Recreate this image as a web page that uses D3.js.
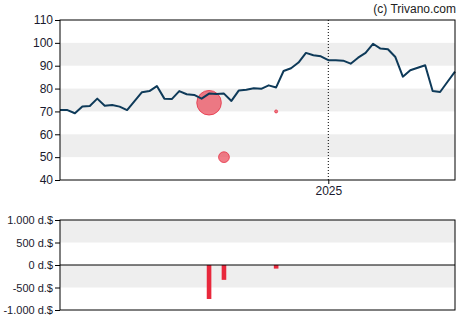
<!DOCTYPE html>
<html><head><meta charset="utf-8">
<script src="https://cdn.jsdelivr.net/npm/d3@7"></script>
<style>body{margin:0;background:#fff}svg{display:block}text{font-family:"Liberation Sans",Arial,sans-serif}</style>
</head><body>
<svg id="c" width="470" height="325"></svg>
<script>
const prices = [70.6,70.6,69.2,72.2,72.4,75.6,72.5,72.8,72.1,70.6,74.5,78.4,78.9,81.1,75.6,75.4,78.9,77.5,77.2,75.6,77.8,77.6,77.8,74.6,79.2,79.5,80.1,79.9,81.4,80.5,87.7,88.9,91.4,95.6,94.6,94.1,92.4,92.4,92.2,90.9,93.5,95.6,99.6,97.5,97.2,93.8,85.2,88.0,89.1,90.2,78.9,78.5,83.0,87.4];
const startDate = new Date(2024, 3, 24);
const dates = prices.map((v, i) => d3.timeDay.offset(startDate, 7 * i));
const tradeIdx = [20, 22, 29];
const tradePrice = [73.8, 50, 70];
const tradeAmount = [-755, -330, -80];
const priceTicks = [40,50,60,70,80,90,100,110];
const amountTicks = [-1000,-500,0,500,1000];
const amountLabels = ["-1.000 d.$","-500 d.$","0 d.$","500 d.$","1.000 d.$"];
const yearTick = [new Date(2025,0,1)];
const yearLabels = ["2025"];

const svg = d3.select("#c");
const L = 60, R = 455, T1 = 20, B1 = 180, T2 = 220, B2 = 310;
const x = d3.scaleTime().domain(d3.extent(dates)).range([L, R]);
const y = d3.scaleLinear().domain([40, 110]).range([B1, T1]);
const y2 = d3.scaleLinear().domain([-1000, 1000]).range([B2, T2]);
const r = d3.scaleLinear().domain([0, 755]).range([0, 12.3]);

// bands main
[[50,60],[70,80],[90,100]].forEach(b => {
  svg.append("rect").attr("x", L).attr("width", R - L)
    .attr("y", y(b[1])).attr("height", y(b[0]) - y(b[1])).attr("fill", "#eeeeee");
});
[[500,1000],[-500,0]].forEach(b => {
  svg.append("rect").attr("x", L).attr("width", R - L)
    .attr("y", y2(b[1])).attr("height", y2(b[0]) - y2(b[1])).attr("fill", "#eeeeee");
});

// 2025 dotted line
svg.append("line").attr("x1", x(yearTick[0])).attr("x2", x(yearTick[0]))
  .attr("y1", T1).attr("y2", B1).attr("stroke", "#000").attr("stroke-dasharray", "1,2");

// bubbles
svg.append("g").selectAll("circle").data(tradeIdx).join("circle")
  .attr("cx", (d) => x(dates[d])).attr("cy", (d, i) => y(tradePrice[i]))
  .attr("r", (d, i) => Math.max(1.5, r(Math.abs(tradeAmount[i]))))
  .attr("fill", "rgba(235,80,95,0.75)").attr("stroke", "rgba(230,50,70,0.8)").attr("stroke-width", 1);

// line
svg.append("path").datum(prices)
  .attr("d", d3.line().x((d, i) => x(dates[i])).y(d => y(d)))
  .attr("fill", "none").attr("stroke", "#0e3a59").attr("stroke-width", 2).attr("stroke-linejoin", "round");

// bars
svg.append("g").selectAll("rect").data(tradeIdx).join("rect")
  .attr("x", d => x(dates[d]) - 2.3).attr("width", 4.6)
  .attr("y", y2(0)).attr("height", (d, i) => y2(tradeAmount[i]) - y2(0))
  .attr("fill", "#e8283c");

// zero line
svg.append("line").attr("x1", L).attr("x2", R).attr("y1", y2(0)).attr("y2", y2(0)).attr("stroke", "#000");

// frames
svg.append("rect").attr("x", L).attr("y", T1).attr("width", R - L).attr("height", B1 - T1)
  .attr("fill", "none").attr("stroke", "#000");
svg.append("rect").attr("x", L).attr("y", T2).attr("width", R - L).attr("height", B2 - T2)
  .attr("fill", "none").attr("stroke", "#000");

// axes
const ay = svg.append("g").attr("transform", `translate(${L},0)`)
  .call(d3.axisLeft(y).tickValues(priceTicks).tickSize(5).tickPadding(2));
const ay2 = svg.append("g").attr("transform", `translate(${L},0)`)
  .call(d3.axisLeft(y2).tickValues(amountTicks).tickSize(5).tickPadding(2)
    .tickFormat((d, i) => amountLabels[i]));
const ax = svg.append("g").attr("transform", `translate(0,${B1})`)
  .call(d3.axisBottom(x).tickValues(yearTick).tickSize(4).tickPadding(2)
    .tickFormat((d, i) => yearLabels[i]));
[ay, ay2, ax].forEach(g => {
  g.select(".domain").remove();
  g.selectAll("line").attr("stroke", "#000");
  g.selectAll("text").attr("fill", "#1a1a2e").style("font-size", "12px");
});
ay2.selectAll("text").style("font-size", "11px");

svg.append("text").attr("x", 456).attr("y", 13).attr("text-anchor", "end")
  .style("font-size", "12px").attr("fill", "#222").text("(c) Trivano.com");
</script>
</body></html>
